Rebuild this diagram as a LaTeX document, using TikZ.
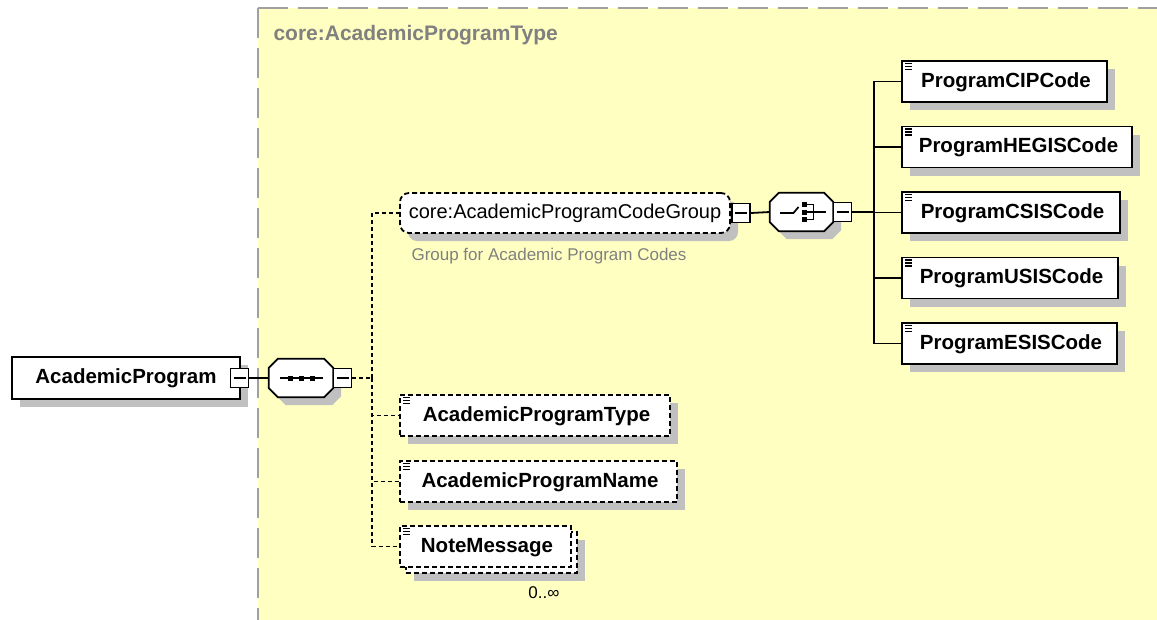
\documentclass[tikz,border=0pt]{standalone}
\usepackage{fontspec}
\setmainfont{Liberation Sans}
\usetikzlibrary{shadows,calc}
\definecolor{ylw}{RGB}{255,255,194}
\definecolor{shd}{RGB}{192,192,192}
\definecolor{lbl}{RGB}{128,128,128}
\definecolor{frame}{RGB}{160,160,160}
\newcommand\elicon[1]{\draw[line width=1.3pt] ($(#1.north west)+(4,3.5)$) -- ++(7,0) ($(#1.north west)+(4,6.5)$) -- ++(7,0) ($(#1.north west)+(4,9.5)$) -- ++(7,0);}
\newcommand\octpath[1]{($(#1.north west)+(0,9)$) -- ($(#1.north west)+(9,0)$) -- ($(#1.north east)+(-9,0)$) -- ($(#1.north east)+(0,9)$) -- ($(#1.south east)+(0,-9)$) -- ($(#1.south east)+(-9,0)$) -- ($(#1.south west)+(9,0)$) -- ($(#1.south west)+(0,-9)$) -- cycle}
\begin{document}
\begin{tikzpicture}[x=1pt,y=-1pt,
  shadowed/.style={general shadow={fill=shd, shadow xshift=8pt, shadow yshift=-8pt}},
  elem/.style={draw=black, line width=1.8pt, fill=white, inner sep=0pt, text height=15pt, text depth=4pt,
     font=\fontsize{20.5}{24}\selectfont\bfseries},
  optdash/.style={dash pattern=on 5pt off 3pt},
  minus/.style={draw, line width=1.7pt, fill=white, minimum width=18pt, minimum height=19pt, inner sep=0pt,
     path picture={\draw[line width=1.6pt] ([xshift=3pt]path picture bounding box.west) -- ([xshift=-3pt]path picture bounding box.east);}},
  comp/.style={inner sep=0pt, draw=none},
  conn/.style={line width=1.8pt},
  dconn/.style={line width=1.7pt, dash pattern=on 4pt off 3pt}
]
\useasboundingbox (0,0) rectangle (1157,619);
\fill[white] (0,0) rectangle (1157,619);
% yellow type region
\fill[ylw] (258,8) rectangle (1165,625);
\draw[frame, line width=1.8pt, dash pattern=on 30pt off 10pt] (258,8) -- (1165,8);
\draw[frame, line width=1.8pt, dash pattern=on 30pt off 10pt] (258,8) -- (258,625);
\node[anchor=west, text=lbl, font=\fontsize{21}{24}\selectfont\bfseries] (typelbl) at (270,35) {core:AcademicProgramType};

% root element
\node[elem, shadowed, minimum width=228pt, minimum height=42pt] (ap) at (126,378) {AcademicProgram};
\node[minus] (apm) at (239.5,378) {};

% sequence compositor
\node[comp, minimum width=64pt, minimum height=38pt] (seq) at (301,378) {};
\fill[shd, transform canvas={xshift=8pt, yshift=-8pt}] \octpath{seq};
\draw[line width=1.8pt, fill=white] \octpath{seq};
\draw[line width=1.7pt] ($(seq.west)+(11,0)$) -- ($(seq.east)+(-10,0)$);
\foreach \dx in {-13.5,-2.5,8.5} \fill ($(seq.center)+(\dx,-2.5)$) rectangle ++(5,5);
\node[minus] (seqm) at (342.5,378) {};
\coordinate (busL) at (372,378);

% group reference
\node[draw, line width=1.8pt, optdash, rounded corners=9pt, fill=white, shadowed, inner sep=0pt,
  minimum width=330pt, minimum height=40pt, text height=15pt, text depth=4pt,
  font=\fontsize{20}{24}\selectfont] (grp) at (565,213) {core:AcademicProgramCodeGroup};
\node[minus] (grpm) at (741,213) {};
\node[anchor=west, text=lbl, font=\fontsize{17}{20}\selectfont] (grplbl) at (408,256) {Group for Academic Program Codes};

% choice compositor
\node[comp, minimum width=63pt, minimum height=38pt] (cho) at (801.5,212) {};
\fill[shd, transform canvas={xshift=8pt, yshift=-8pt}] \octpath{cho};
\draw[line width=1.8pt, fill=white] \octpath{cho};
\draw[line width=1.7pt] ($(cho.center)+(-21.5,1)$) -- ($(cho.center)+(-8,1)$) -- ($(cho.center)+(-3,-5)$);
\foreach \dy in {-10,-2.5,5} \fill ($(cho.center)+(0,\dy)$) rectangle ++(5,5);
\draw[line width=1.7pt] ($(cho.center)+(5,-7.5)$) -- ($(cho.center)+(12,-7.5)$) -- ($(cho.center)+(12,7.5)$) -- ($(cho.center)+(5,7.5)$)
  ($(cho.center)+(5,0)$) -- ($(cho.center)+(24,0)$);
\node[minus] (chom) at (842.5,212) {};
\coordinate (bus2) at (874,212);

% choice children
\node[elem, shadowed, minimum width=205pt, minimum height=41pt] (cip) at (1004.5,81.5) {\hspace{3pt}ProgramCIPCode};
\node[elem, shadowed, minimum width=230pt, minimum height=41pt] (heg) at (1017,147) {\hspace{3pt}ProgramHEGISCode};
\node[elem, shadowed, minimum width=218pt, minimum height=41pt] (csis) at (1011,212.5) {\hspace{3pt}ProgramCSISCode};
\node[elem, shadowed, minimum width=216pt, minimum height=41pt] (usis) at (1010,278) {\hspace{3pt}ProgramUSISCode};
\node[elem, shadowed, minimum width=215pt, minimum height=41pt] (esis) at (1009.5,343.5) {\hspace{3pt}ProgramESISCode};
\foreach \n in {cip,heg,csis,usis,esis} {\elicon{\n}}

% sequence children
\node[elem, optdash, shadowed, minimum width=270pt, minimum height=41pt] (apt) at (535,415.5) {\hspace{3pt}AcademicProgramType};
\node[elem, optdash, shadowed, minimum width=277pt, minimum height=41pt] (apn) at (538.5,481.5) {\hspace{3pt}AcademicProgramName};
\node[elem, optdash, shadowed, minimum width=171pt, minimum height=41pt] (noteb) at (491.5,552.5) {};
\node[elem, optdash, minimum width=171pt, minimum height=41pt] (note) at (485.5,546.5) {\hspace{3pt}NoteMessage};
\foreach \n in {apt,apn,note} {\elicon{\n}}
\node[font=\fontsize{17}{20}\selectfont] (occ) at (544,593) {0..∞};

% connectors
\draw[conn] (apm.east) -- (seq.west);
\draw[dconn] (seqm.east) -- (busL);
\foreach \t in {grp,apt,apn,note} {\draw[dconn] (busL) |- (\t.west);}
\draw[conn] (grpm.east) -- (cho.west);
\draw[conn] (chom.east) -- (bus2);
\foreach \t in {cip,heg,csis,usis,esis} {\draw[conn] (bus2) |- (\t.west);}
\end{tikzpicture}
\end{document}
